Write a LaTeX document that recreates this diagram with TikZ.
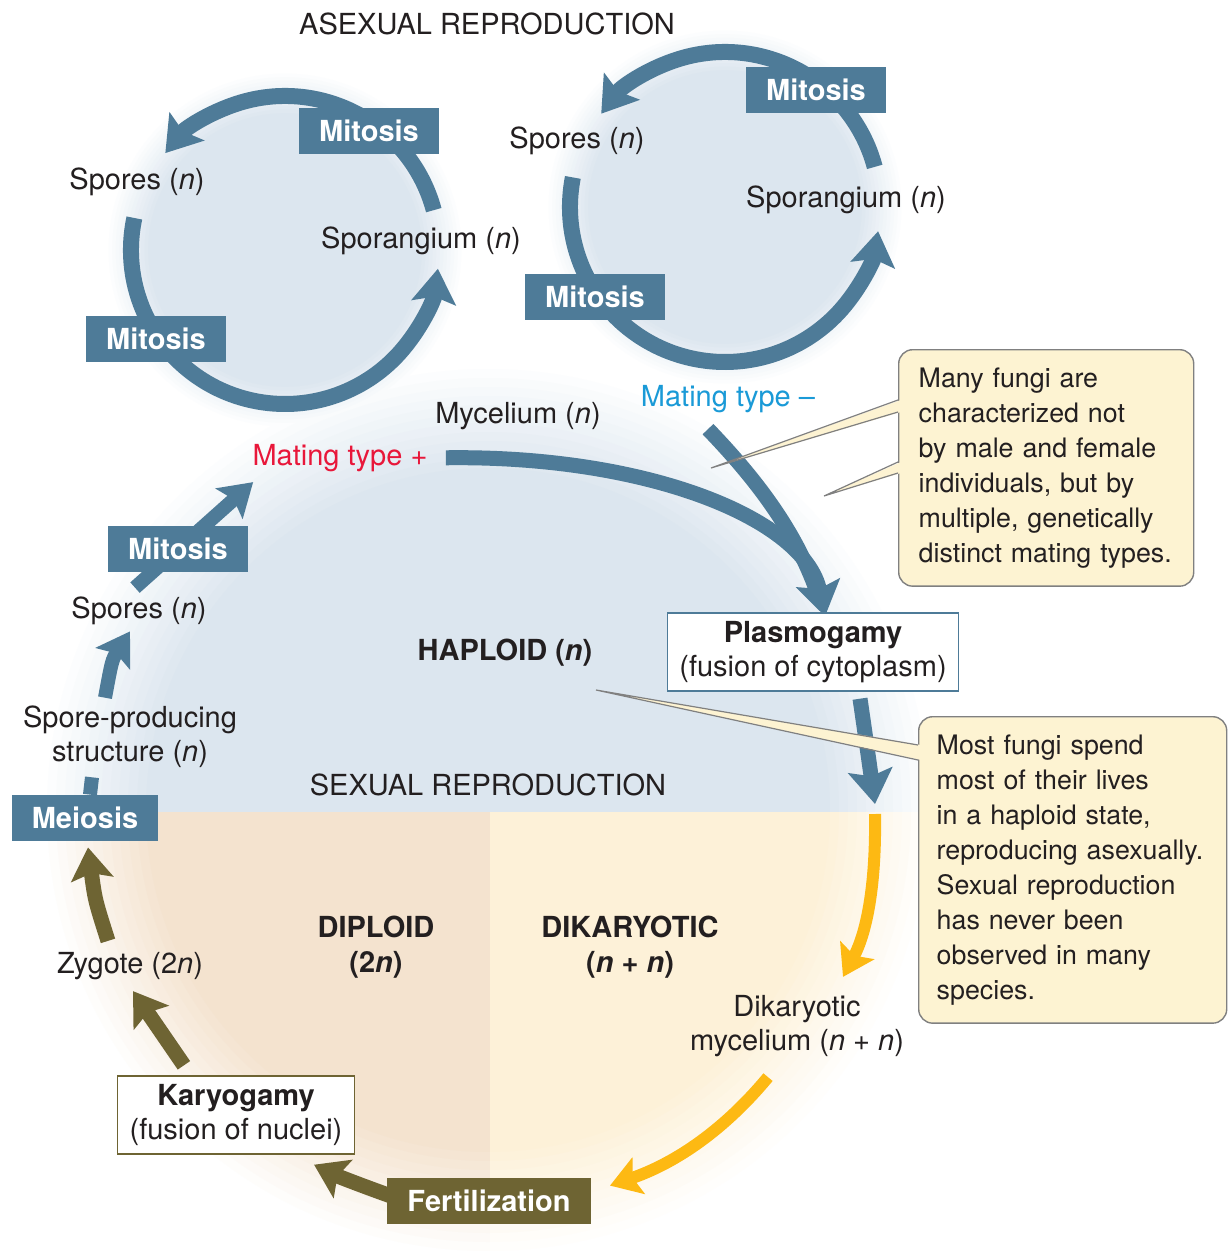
\documentclass[tikz,border=0pt]{standalone}
\usepackage{fontspec}
\setmainfont{TeX Gyre Heros}
\usetikzlibrary{arrows.meta, calc}

\definecolor{fblue}{HTML}{4E7B98}
\definecolor{folive}{HTML}{6E6433}
\definecolor{fgold}{HTML}{FDB913}
\definecolor{fred}{HTML}{E8173A}
\definecolor{fcyan}{HTML}{1A9AD7}
\definecolor{bgblue}{HTML}{DCE6EF}
\definecolor{bgpeach}{HTML}{F4E3CF}
\definecolor{bgyellow}{HTML}{FDF1D8}
\definecolor{notefill}{HTML}{FDF3D2}
\definecolor{noteline}{HTML}{808080}
\definecolor{ink}{HTML}{231F20}

\pgfdeclarelayer{shade}
\pgfdeclarelayer{flow}
\pgfsetlayers{shade,flow,main}

\tikzset{
  lbl/.style={text=ink, font=\fontsize{14.5}{17}\selectfont, align=center, inner sep=1pt},
  boldlbl/.style={lbl, font=\fontsize{14.5}{17.5}\selectfont\bfseries},
  mitbox/.style={fill=fblue, text=white, font=\fontsize{14.5}{17}\selectfont\bfseries, minimum height=23pt, inner xsep=10pt, inner ysep=0pt},
  evbox/.style={lbl, draw=fblue, line width=0.7pt, fill=white, inner xsep=6pt, minimum height=39pt},
  notebox/.style={draw=noteline, line width=0.7pt, fill=notefill, rounded corners=7pt, text=ink, font=\fontsize{13.4}{17.5}\selectfont, align=left, anchor=north west, inner xsep=9pt, inner ysep=9pt},
  notetail/.style={draw=noteline, line width=0.6pt},
  cyclearc/.style={draw=fblue, line width=8pt},
  bluearr/.style={cyclearc, -{Stealth[length=17pt, width=22pt, inset=3pt]}},
  chainarr/.style={draw=fblue, line width=7pt, -{Stealth[length=16pt, width=20pt, inset=3pt]}},
  olivearr/.style={draw=folive, line width=7.5pt, -{Stealth[length=16pt, width=21pt, inset=3pt]}},
  goldarr/.style={draw=fgold, line width=6pt, -{Stealth[length=15pt, width=19pt, inset=3pt]}},
}

\begin{document}
\begin{tikzpicture}[x=0.5pt, y=0.5pt]
\useasboundingbox (0,0) rectangle (1227,-1251);

% asexual reproduction
\node[lbl] (asex) at (487,-24) {ASEXUAL REPRODUCTION};
\coordinate (lc) at (285,-250);
\coordinate (rc) at (725,-207);
\node[lbl] (sporesL) at (137,-182) {Spores (\textit{n})};
\node[lbl] (sporangL) at (421,-241) {Sporangium (\textit{n})};
\node[mitbox] (mitL1) at (369,-131) {Mitosis};
\node[mitbox] (mitL2) at (156,-339) {Mitosis};
\node[lbl] (sporesR) at (577,-141) {Spores (\textit{n})};
\node[lbl] (sporangR) at (846,-200) {Sporangium (\textit{n})};
\node[mitbox] (mitR1) at (816,-90) {Mitosis};
\node[mitbox] (mitR2) at (595,-297) {Mitosis};

% sexual reproduction
\coordinate (bigc) at (488,-810);
\node[lbl] (myc) at (518,-416) {Mycelium (\textit{n})};
\node[lbl, text=fred] (mtplus) at (340,-458) {Mating type +};
\node[lbl, text=fcyan] (mtminus) at (728,-399) {Mating type --};
\node[evbox] (plasmo) at (813,-652) {\textbf{Plasmogamy}\\(fusion of cytoplasm)};
\node[boldlbl] (hap) at (505,-653) {HAPLOID (\textit{n})};
\node[lbl] (sexr) at (488,-785) {SEXUAL REPRODUCTION};
\node[mitbox] (meio) at (85,-818) {Meiosis};
\node[lbl] (spst) at (130,-737) {Spore-producing\\structure (\textit{n})};
\node[lbl] (sporesS) at (139,-611) {Spores (\textit{n})};
\node[mitbox] (mitS) at (178,-549) {Mitosis};
\node[lbl] (zyg) at (130,-966) {Zygote (2\textit{n})};
\node[evbox, draw=folive] (karyo) at (236,-1115) {\textbf{Karyogamy}\\(fusion of nuclei)};
\node[mitbox, fill=folive] (fert) at (489,-1201) {Fertilization};
\node[boldlbl] (dip) at (376,-947) {DIPLOID\\(2\textit{n})};
\node[boldlbl] (dik) at (630,-947) {DIKARYOTIC\\(\textit{n} + \textit{n})};
\node[lbl] (dikm) at (797,-1026) {Dikaryotic\\mycelium (\textit{n} + \textit{n})};
\coordinate (fuse) at ($(plasmo.north)+(12,-4)$);
\coordinate (cross) at (875,-804);

% notes
\node[notebox, text width=127.5pt, inner xsep=10pt] (note1) at (898,-349) {Many fungi are\\characterized not\\by male and female\\individuals, but by\\multiple, genetically\\distinct mating types.};
\node[notebox, text width=136pt] (note2) at (918,-716) {Most fungi spend\\most of their lives\\in a haploid state,\\reproducing asexually.\\Sexual reproduction\\has never been\\observed in many\\species.};
\coordinate (tip1) at (711,-468);
\coordinate (tip2) at (824,-496);
\coordinate (tip3) at (596,-690);
\fill[notefill] ($(note1.north west)+(3,-51)$) -- (tip1) -- ($(note1.north west)+(3,-63)$) -- cycle;
\draw[notetail] ($(note1.north west)+(0,-51)$) -- (tip1) -- ($(note1.north west)+(0,-63)$);
\fill[notefill] ($(note1.north west)+(3,-113)$) -- (tip2) -- ($(note1.north west)+(3,-124)$) -- cycle;
\draw[notetail] ($(note1.north west)+(0,-113)$) -- (tip2) -- ($(note1.north west)+(0,-124)$);
\fill[notefill] ($(note2.north west)+(3,-29)$) -- (tip3) -- ($(note2.north west)+(3,-44)$) -- cycle;
\draw[notetail] ($(note2.north west)+(0,-29)$) -- (tip3) -- ($(note2.north west)+(0,-44)$);

\begin{pgfonlayer}{flow}
  \draw[bluearr] ($(lc)+(15:154)$) arc[start angle=15, end angle=141, radius=154];
  \draw[bluearr] ($(lc)+(168:154)$) arc[start angle=168, end angle=353, radius=154];
  \draw[bluearr] ($(rc)+(15:155)$) arc[start angle=15, end angle=143, radius=155];
  \draw[bluearr] ($(rc)+(169:155)$) arc[start angle=169, end angle=351, radius=155];
  \draw[cyclearc, line width=7.5pt, shorten >=9pt] ($(mtminus.south)+(-20,-14)$) .. controls (752,-475) and (797,-530) .. (fuse);
  \draw[bluearr, line width=7.5pt, shorten <=8pt] (mtplus.east) .. controls (650,-455) and (805,-520) .. (fuse);
  \draw[bluearr, line width=7.5pt] ($(plasmo.south)+(47,-7)$) .. controls (866,-740) .. (cross);
  \draw[chainarr] ($(sporesS.north)+(-4,7)$) -- ($(mtplus.south west)+(3,-8)$);
  \draw[chainarr] ($(spst.north)+(-25,6)$) .. controls (112,-660) .. ($(sporesS.south)+(-9,-4)$);
  \draw[draw=fblue, line width=7pt] ($(meio.north)+(5,0)$) -- ($(spst.south)+(-38,-7)$);
  \draw[goldarr] ($(cross)+(0,-10)$) .. controls (876,-880) and (868,-930) .. ($(dikm.north)+(46,16)$);
  \draw[goldarr] ($(dikm.south)+(-29,-18)$) .. controls (720,-1135) and (670,-1165) .. ($(fert.north east)+(19,-8)$);
  \draw[olivearr] ($(fert.west)+(4,5)$) .. controls (360,-1185) and (335,-1175) .. ($(karyo.south east)+(-41,-10)$);
  \draw[olivearr] ($(karyo.north west)+(67,10)$) -- ($(zyg.south)+(3,-9)$);
  \draw[olivearr] ($(zyg.north)+(-22,9)$) .. controls (95,-900) .. ($(meio.south)+(3,-6)$);
\end{pgfonlayer}

% soft discs: lightest rings first, so the darker tone wins where discs meet
\begin{pgfonlayer}{shade}
  \fill[white] (0,0) rectangle (1227,-1251);
  \foreach \k in {0,...,12} {
    \pgfmathsetmacro\p{\k/12*100}
    \pgfmathsetmacro\rb{450*(1-0.02*\k)}
    \pgfmathsetmacro\rs{180*(1-0.02*\k)}
    \begin{scope}
      \clip (0,-812) rectangle (1227,0);
      \fill[bgblue!\p!white] (bigc) circle[radius=\rb];
    \end{scope}
    \begin{scope}
      \clip (0,-812) rectangle (490,-1251);
      \fill[bgpeach!\p!white] (bigc) circle[radius=\rb];
    \end{scope}
    \begin{scope}
      \clip (490,-812) rectangle (1227,-1251);
      \fill[bgyellow!\p!white] (bigc) circle[radius=\rb];
    \end{scope}
    \fill[bgblue!\p!white] (lc) circle[radius=\rs];
    \fill[bgblue!\p!white] (rc) circle[radius=\rs];
  }
\end{pgfonlayer}
\end{tikzpicture}
\end{document}
